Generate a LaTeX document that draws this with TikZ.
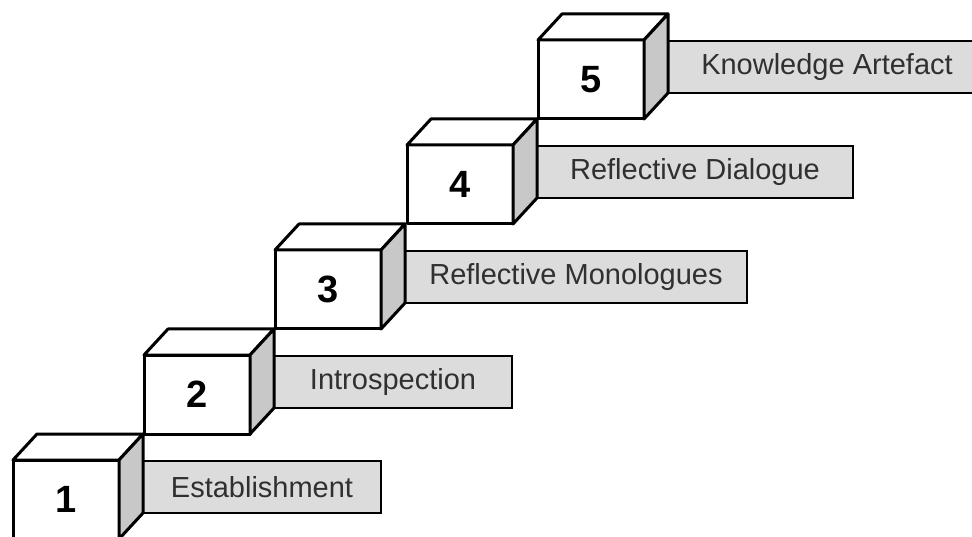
\documentclass[tikz,border=0pt]{standalone}
\usepackage{fontspec}
\setmainfont{Liberation Sans}
\definecolor{sidegray}{HTML}{C8C8C8}
\definecolor{tabgray}{HTML}{DCDCDC}
\definecolor{tabtext}{HTML}{303030}
\tikzset{
  front/.style={draw, line width=3pt, fill=white, line join=round,
    minimum width=106pt, minimum height=79pt, inner sep=0pt, outer sep=0pt,
    anchor=north west, font=\fontsize{38}{44}\selectfont\bfseries},
  topface/.style={draw, line width=3pt, fill=white, line join=round},
  sideface/.style={draw, line width=3pt, fill=sidegray, line join=round},
  tab/.style={draw, line width=1.6pt, fill=tabgray, text=tabtext,
    minimum height=52pt, inner sep=0pt, outer sep=0pt, anchor=north west,
    font=\fontsize{29}{34}\selectfont}
}
\begin{document}
\begin{tikzpicture}[x=1pt,y=-1pt]
\useasboundingbox (0,0) rectangle (972,537);
% one stair step: caption tab first, then the block in front of it
\foreach \i/\x/\y/\w/\t in {
  1/13/460/238/Establishment,
  2/144/355/238/Introspection,
  3/275/250/342/Reflective Monologues,
  4/407/145/316/Reflective Dialogue,
  5/538/40/318/Knowledge Artefact}{
  \node[tab, minimum width=\w pt] (l\i) at (\x+130,\y+1) {\t};
  \node[front] (f\i) at (\x,\y) {\i};
  \draw[topface] (f\i.north west) -- ++(24,-26) -- ++(106,0)
    -- (f\i.north east) -- cycle;
  \draw[sideface] (f\i.north east) -- ++(24,-26) -- ++(0,79)
    -- (f\i.south east) -- cycle;
}
\end{tikzpicture}
\end{document}
